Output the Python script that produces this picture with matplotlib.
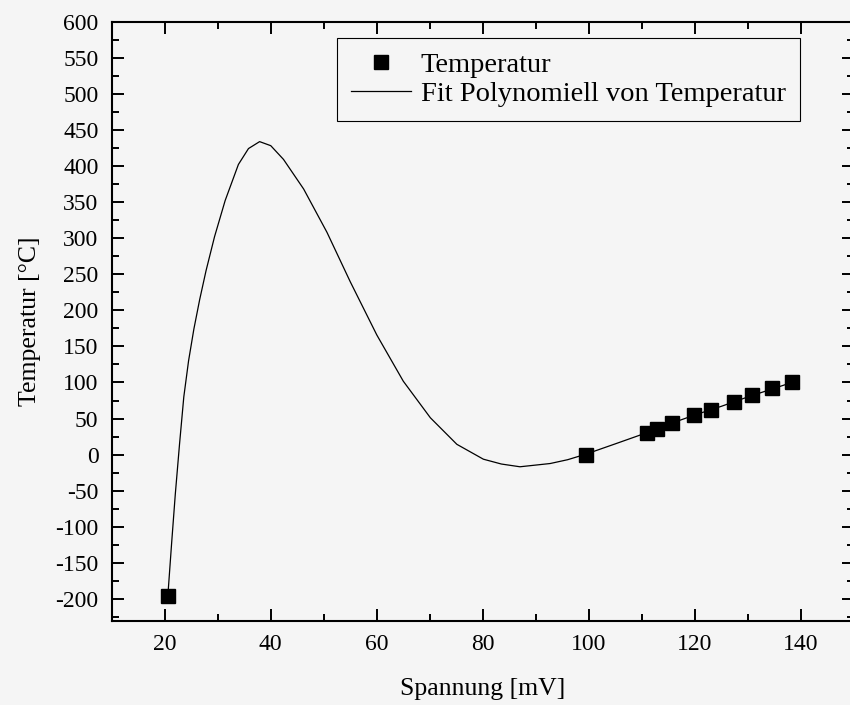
import numpy as np
import matplotlib.pyplot as plt
from matplotlib.ticker import MultipleLocator

# Messwerte
spannung = [20.6, 99.4, 111.0, 112.9, 115.7, 119.9, 123.0, 127.3, 130.7, 134.6, 138.3]
temperatur = [-196, 0, 30, 35, 44, 55, 62.5, 73.5, 82.5, 92, 100]

# Fitkurve
fit_x = [20.6, 21.3, 22.0, 22.8, 23.6, 24.5, 25.5, 26.6, 27.8, 29.4, 31.4, 33.9,
         35.8, 37.9, 40.0, 42.4, 46.2, 50.6, 55.0, 60.0, 65.0, 70.1, 75.1, 80.1,
         83.5, 87.0, 92.7, 96.0, 99.4, 105, 110, 115, 120, 125, 130, 135, 138.3]
fit_y = [-194.5, -123, -54.5, 15, 80, 130, 174, 215, 255, 302, 352, 402,
         424, 433.6, 428, 409, 368, 308, 239.4, 165.8, 101.7, 51.1, 14.3, -6.3,
         -13, -16.8, -12.3, -7, 0.6, 15, 28, 42, 55, 67, 80, 92, 100]

plt.rcParams['font.family'] = ['Liberation Serif', 'DejaVu Serif']
plt.rcParams['axes.unicode_minus'] = False

fig = plt.figure(figsize=(8.5, 7.05), dpi=100, facecolor='#f5f5f5')
ax = fig.add_axes([0.1314, 0.1196, 0.8733, 0.8499])
ax.set_facecolor('none')

ax.plot(spannung, temperatur, 's', color='k', ms=9.5, label='Temperatur')
ax.plot(fit_x, fit_y, '-', color='k', lw=0.9, label='Fit Polynomiell von Temperatur')

ax.set_xlim(10, 150)
ax.set_ylim(-230, 600)
ax.xaxis.set_major_locator(MultipleLocator(20))
ax.xaxis.set_minor_locator(MultipleLocator(10))
ax.yaxis.set_major_locator(MultipleLocator(50))
ax.yaxis.set_minor_locator(MultipleLocator(25))
ax.tick_params(which='both', direction='in', top=True, right=True, width=1.4,
               labelsize=17, pad=9.5)
ax.tick_params(which='major', length=8.5)
ax.tick_params(which='minor', length=5)
ax.set_xticks([20, 40, 60, 80, 100, 120, 140])
for s in ax.spines.values():
    s.set_linewidth(1.5)

ax.set_xlabel('Spannung [mV]', fontsize=18.5, labelpad=17)
ax.set_ylabel('Temperatur [°C]', fontsize=18.5, labelpad=10)

leg = ax.legend(loc='upper right', bbox_to_anchor=(800 / 850, 1 - 38 / 705),
                bbox_transform=fig.transFigure, borderaxespad=0, fontsize=20.5,
                fancybox=False, framealpha=1, facecolor='none', edgecolor='k',
                handlelength=2.1, handletextpad=0.35, labelspacing=0.1,
                borderpad=0.5)
leg.get_frame().set_linewidth(0.8)

fig.savefig('out.png', dpi=100, facecolor=fig.get_facecolor())
